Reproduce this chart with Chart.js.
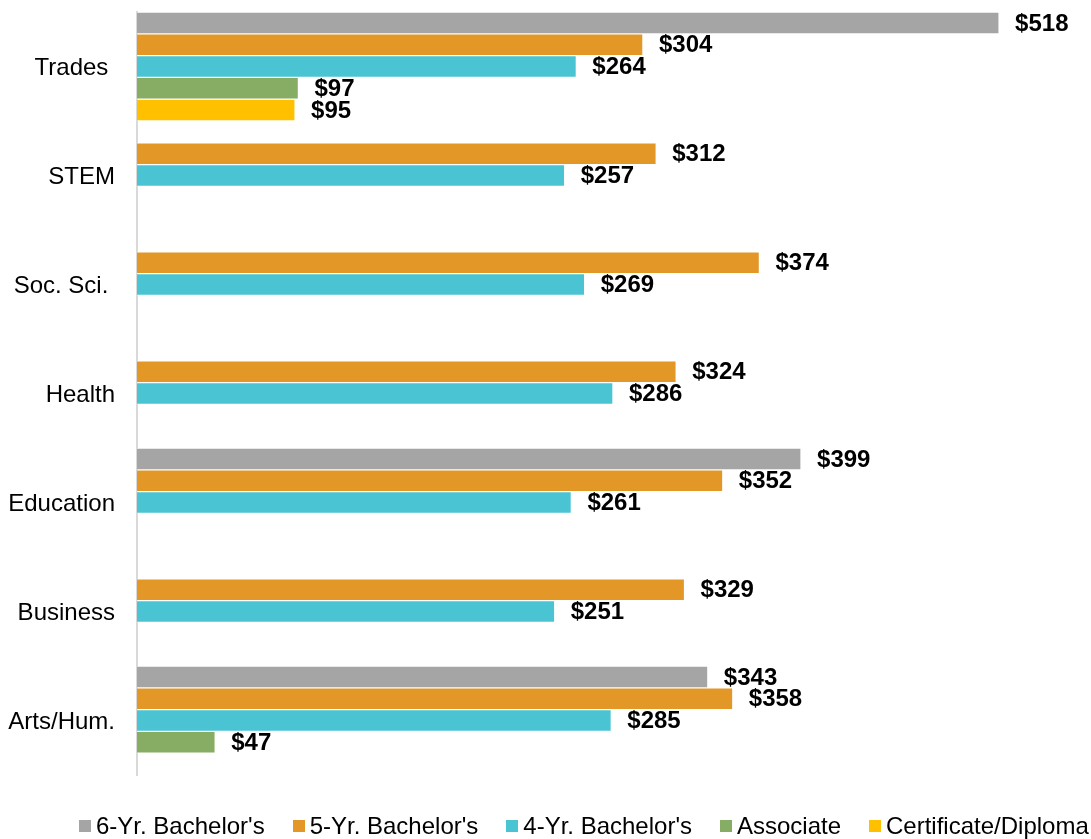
<!DOCTYPE html>
<html>
<head>
<meta charset="utf-8">
<script src="https://cdn.jsdelivr.net/npm/chart.js@4"></script>
<style>
	html, body { margin: 0; padding: 0; background: #fff; }
	#wrap { position: relative; width: 1091px; height: 839px; }
	#legend {
		position: absolute; left: 79px; top: 812px;
		display: flex; align-items: center; white-space: nowrap;
		font-family: "Liberation Sans", Arial, sans-serif; font-size: 24px; color: #000;
		line-height: 28px;
	}
	#legend .item { display: flex; align-items: center; margin-right: 28px; }
	#legend .box { width: 12px; height: 12px; margin-right: 5px; }
</style>
</head>
<body>
<div id="wrap">
	<canvas id="chart" width="1091" height="839"></canvas>
	<div id="legend"></div>
</div>
<script>
const categories = ["Trades ", "STEM", "Soc. Sci. ", "Health", "Education", "Business", "Arts/Hum."];
const seriesNames = ["6-Yr. Bachelor's", "5-Yr. Bachelor's", "4-Yr. Bachelor's", "Associate", "Certificate/Diploma"];
const sixYear = [518, null, null, null, 399, null, 343];
const fiveYear = [304, 312, 374, 324, 352, 329, 358];
const fourYear = [264, 257, 269, 286, 261, 251, 285];
const associate = [97, null, null, null, null, null, 47];
const certificate = [95, null, null, null, null, null, null];
const colors = ["#a5a5a5", "#e29726", "#4ac4d3", "#87ac63", "#ffc000"];

const seriesValues = [sixYear, fiveYear, fourYear, associate, certificate];

// draws "$value" just past the end of each bar
const valueLabels = {
	id: "valueLabels",
	afterDatasetsDraw(chart) {
		const ctx = chart.ctx;
		ctx.save();
		ctx.font = "bold 24px 'Liberation Sans', Arial, sans-serif";
		ctx.fillStyle = "#000";
		ctx.textAlign = "left";
		ctx.textBaseline = "middle";
		chart.data.datasets.forEach((ds, i) => {
			const meta = chart.getDatasetMeta(i);
			meta.data.forEach((bar, j) => {
				const v = ds.data[j];
				if (v === null || v === undefined) return;
				ctx.fillText("$" + v, bar.x + 16, bar.y + 1);
			});
		});
		ctx.restore();
	},
};

new Chart(document.querySelector("#chart"), {
	type: "bar",
	data: {
		labels: categories,
		datasets: seriesNames.map((name, i) => ({
			label: name,
			data: seriesValues[i],
			backgroundColor: colors[i],
			borderColor: "rgba(255,255,255,0.6)",
			borderWidth: 1,
			barPercentage: 1,
			categoryPercentage: 1,
		})),
	},
	options: {
		indexAxis: "y",
		responsive: false,
		animation: false,
		layout: { padding: { top: 12, bottom: 64, left: 0, right: 22 } },
		plugins: {
			legend: { display: false },
			tooltip: { enabled: false },
		},
		scales: {
			x: {
				display: false,
				min: 0,
				max: 560,
			},
			y: {
				grid: { display: false, drawTicks: false },
				border: { display: true, color: "#d9d9d9", width: 2 },
				ticks: {
					color: "#000",
					padding: 22,
					labelOffset: 2,
					font: { family: "'Liberation Sans', Arial, sans-serif", size: 24 },
				},
				afterFit(scale) {
					scale.width = 137;
					scale.paddingTop = 0;
					scale.paddingBottom = 0;
				},
			},
		},
	},
	plugins: [valueLabels],
});

const legend = document.querySelector("#legend");
seriesNames.forEach((name, i) => {
	const item = document.createElement("div");
	item.className = "item";
	item.innerHTML = `<span class="box" style="background:${colors[i]}"></span><span>${name}</span>`;
	legend.appendChild(item);
});
</script>
</body>
</html>
